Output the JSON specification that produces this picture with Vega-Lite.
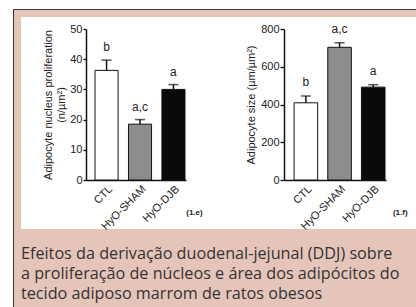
{
  "$schema": "https://vega.github.io/schema/vega-lite/v6.json",
  "background": "#e5c5ba",
  "padding": 0,
  "spacing": 0,
  "config": {
    "view": {"stroke": null},
    "font": "Liberation Sans",
    "text": {"color": "#222222"},
    "axis": {"labelFont": "Liberation Sans", "titleFont": "Liberation Sans", "grid": false, "labelColor": "#222", "titleColor": "#222", "domainColor": "#111", "tickColor": "#111"}
  },
  "datasets": {
    "empty": [],
    "groups": [
      {"group": "CTL", "prolif": 36.3, "prolifHi": 39.7, "sigProlif": "b", "size": 409, "sizeHi": 445, "sigSize": "b"},
      {"group": "HyO-SHAM", "prolif": 18.5, "prolifHi": 20.0, "sigProlif": "a,c", "size": 703, "sizeHi": 727, "sigSize": "a,c"},
      {"group": "HyO-DJB", "prolif": 30.0, "prolifHi": 31.6, "sigProlif": "a", "size": 492, "sizeHi": 505, "sigSize": "a"}
    ]
  },
  "hconcat": [
    {"width": 13, "height": 307, "view": {"fill": "white"}, "data": {"name": "empty"}, "mark": "point"},
    {
      "spacing": 0,
      "vconcat": [
        {"width": 1, "height": 9, "view": {"fill": "white"}, "data": {"name": "empty"}, "mark": "point"},
        {"width": 1, "height": 298, "view": {"fill": "#3a3a3a"}, "data": {"name": "empty"}, "mark": "point"}
      ]
    },
    {
      "spacing": 0,
      "title": {
        "text": ["Efeitos da derivação duodenal-jejunal (DDJ) sobre", "a proliferação de núcleos e área dos adipócitos do", "tecido adiposo marrom de ratos obesos"],
        "orient": "bottom",
        "anchor": "start",
        "font": "Open Sans",
        "fontSize": 16.2,
        "fontWeight": "normal",
        "color": "#333333",
        "lineHeight": 20,
        "offset": 10,
        "dy": 5,
        "dx": 7
      },
      "vconcat": [
        {"width": 402, "height": 9, "view": {"fill": "white"}, "data": {"name": "empty"}, "mark": "point"},
        {"width": 402, "height": 1, "view": {"fill": "#3a3a3a"}, "data": {"name": "empty"}, "mark": "point"},
        {"width": 402, "height": 7, "data": {"name": "empty"}, "mark": "point"},
        {
          "spacing": 0,
          "hconcat": [
            {"width": 7, "height": 212, "data": {"name": "empty"}, "mark": "point"},
            {
              "width": 187,
              "height": 212,
              "view": {"fill": "white"},
              "data": {"name": "groups"},
              "encoding": {
                "x": {
                  "field": "group", "type": "nominal", "sort": null,
                  "scale": {"range": [65, 165], "paddingInner": 0.31, "paddingOuter": 0.15, "align": 0.9},
                  "axis": {"orient": "bottom", "offset": -49, "title": null, "labelAngle": -45, "labelFontSize": 11, "ticks": false, "labelPadding": 3, "domainWidth": 1.5}
                }
              },
              "layer": [
                {
                  "mark": {"type": "bar", "stroke": "#111", "strokeWidth": 1},
                  "encoding": {
                    "y": {
                      "field": "prolif", "type": "quantitative",
                      "scale": {"domain": [0, 50], "range": [163, 12], "nice": false},
                      "axis": {"orient": "left", "offset": -65, "values": [0, 10, 20, 30, 40, 50], "tickSize": 3, "tickWidth": 1.3, "labelPadding": 1, "labelFontSize": 11, "domainWidth": 1.5,
                        "title": ["Adipocyte nucleus proliferation", "(n/µm²)"], "titleFontSize": 11, "titleFontWeight": "normal", "titlePadding": 3, "titleLineHeight": 13}
                    },
                    "fill": {"field": "group", "type": "nominal", "scale": {"domain": ["CTL", "HyO-SHAM", "HyO-DJB"], "range": ["#ffffff", "#8c8c8c", "#0a0a0a"]}, "legend": null}
                  }
                },
                {
                  "mark": {"type": "rule", "color": "#111", "strokeWidth": 1.5},
                  "encoding": {"y": {"field": "prolif", "type": "quantitative"}, "y2": {"field": "prolifHi"}}
                },
                {
                  "mark": {"type": "tick", "color": "#111", "thickness": 1.5, "size": 10},
                  "encoding": {"y": {"field": "prolifHi", "type": "quantitative"}}
                },
                {
                  "mark": {"type": "text", "baseline": "alphabetic", "dy": -9, "fontSize": 12, "color": "#222222"},
                  "encoding": {"y": {"field": "prolifHi", "type": "quantitative"}, "text": {"field": "sigProlif", "type": "nominal"}}
                },
                {
                  "data": {"values": [{"label": "(1.e)"}]},
                  "mark": {"type": "text", "fontSize": 8, "fontWeight": "bold", "color": "#222222", "dx": 21, "baseline": "middle"},
                  "encoding": {"x": {"datum": "HyO-DJB"}, "y": {"datum": -10.9}, "text": {"field": "label", "type": "nominal"}}
                }
              ]
            },
            {
              "width": 208,
              "height": 212,
              "view": {"fill": "white"},
              "data": {"name": "groups"},
              "encoding": {
                "x": {
                  "field": "group", "type": "nominal", "sort": null,
                  "scale": {"range": [76, 178], "paddingInner": 0.3, "paddingOuter": 0.165, "align": 0.91},
                  "axis": {"orient": "bottom", "offset": -49, "title": null, "labelAngle": -45, "labelFontSize": 11, "ticks": false, "labelPadding": 3, "domainWidth": 1.5}
                }
              },
              "layer": [
                {
                  "mark": {"type": "bar", "stroke": "#111", "strokeWidth": 1},
                  "encoding": {
                    "y": {
                      "field": "size", "type": "quantitative",
                      "scale": {"domain": [0, 800], "range": [163, 12], "nice": false},
                      "axis": {"orient": "left", "offset": -76, "values": [0, 200, 400, 600, 800], "tickSize": 4, "tickWidth": 1.3, "labelPadding": 1, "labelFontSize": 11, "domainWidth": 1.5,
                        "title": "Adipocyte size (µm/µm²)", "titleFontSize": 11, "titleFontWeight": "normal", "titlePadding": 4}
                    },
                    "fill": {"field": "group", "type": "nominal", "scale": {"domain": ["CTL", "HyO-SHAM", "HyO-DJB"], "range": ["#ffffff", "#8c8c8c", "#0a0a0a"]}, "legend": null}
                  }
                },
                {
                  "mark": {"type": "rule", "color": "#111", "strokeWidth": 1.5},
                  "encoding": {"y": {"field": "size", "type": "quantitative"}, "y2": {"field": "sizeHi"}}
                },
                {
                  "mark": {"type": "tick", "color": "#111", "thickness": 1.5, "size": 10},
                  "encoding": {"y": {"field": "sizeHi", "type": "quantitative"}}
                },
                {
                  "mark": {"type": "text", "baseline": "alphabetic", "dy": -10, "fontSize": 12, "color": "#222222"},
                  "encoding": {"y": {"field": "sizeHi", "type": "quantitative"}, "text": {"field": "sigSize", "type": "nominal"}}
                },
                {
                  "data": {"values": [{"label": "(1.f)"}]},
                  "mark": {"type": "text", "fontSize": 8, "fontWeight": "bold", "color": "#222222", "dx": 27, "baseline": "middle"},
                  "encoding": {"x": {"datum": "HyO-DJB"}, "y": {"datum": -175}, "text": {"field": "label", "type": "nominal"}}
                }
              ]
            }
          ]
        }
      ]
    }
  ]
}
